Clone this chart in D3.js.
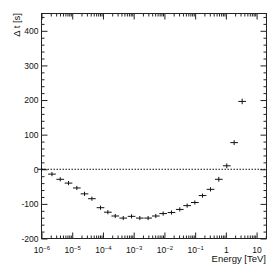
<!DOCTYPE html>
<html>
<head>
<meta charset="utf-8">
<script src="https://cdn.jsdelivr.net/npm/d3@7"></script>
<style>
  body { margin: 0; background: #fff; }
  text { font-family: "Liberation Sans", Arial, sans-serif; fill: #111; }
</style>
</head>
<body>
<div id="chart"></div>
<script>
// data: bin centres as log10(E / TeV), time lag in s
const logEnergy = [-6.0, -5.66, -5.39, -5.12, -4.85, -4.60, -4.36, -4.08, -3.84, -3.60,
                   -3.34, -3.07, -2.80, -2.53, -2.28, -2.04, -1.77, -1.50, -1.26, -1.01,
                   -0.76, -0.50, -0.23, 0.03, 0.27, 0.53];
const deltaT = [0, -14, -29, -40, -54, -71, -85, -111, -124, -135,
                -141, -136, -141, -141, -135, -128, -125, -116, -105, -96,
                -76, -58, -29, 10, 77, 196];
const deltaTErr = [6, 6, 6, 6, 6, 6, 6, 6, 6, 6,
                   6, 6, 6, 6, 6, 6, 6, 6, 6, 6,
                   6, 6, 7, 7, 7, 8];
const binHalfWidth = 0.125; // decades
const yTicks = [-200, -100, 0, 100, 200, 300, 400];
const xTickExp = [-6, -5, -4, -3, -2, -1, 0, 1];

//svg container
const svgWidth = 274
const svgHeight = 268
const margin = { top: 13, right: 8, bottom: 30, left: 41 };
const width = svgWidth - margin.left - margin.right;
const height = svgHeight - margin.top - margin.bottom;

const svg = d3.select("#chart")
  .append("svg")
  .attr("width", svgWidth)
  .attr("height", svgHeight);
const g = svg.append("g")
  .attr("transform", `translate(${margin.left + 0.5}, ${margin.top + 0.5})`);

const xScale = d3.scaleLog().domain([1e-6, 21]).range([0, width]);
const yScale = d3.scaleLinear().domain([-200, 450]).range([height, 0]);

// minor ticks
const xMinor = [];
xTickExp.forEach(e => {
  for (let k = 2; k <= 9; k++) {
    const v = k * Math.pow(10, e);
    if (v <= 21) xMinor.push(v);
  }
});
const yMinor = d3.range(-200, 451, 20).filter(v => v % 100 !== 0);
const xMajor = xTickExp.map(e => Math.pow(10, e));

const majorLen = 6, minorLen = 3;

function styleAxis(sel) {
  sel.select(".domain").remove();
  sel.selectAll("line").attr("stroke", "#222");
}

// bottom
g.append("g").attr("transform", `translate(0,${height})`)
  .call(d3.axisBottom(xScale).tickValues(xMinor).tickSize(-minorLen).tickFormat(""))
  .call(styleAxis);
const xAx = g.append("g").attr("transform", `translate(0,${height})`)
  .call(d3.axisBottom(xScale).tickValues(xMajor).tickSize(-majorLen).tickPadding(5).tickFormat(""))
  .call(styleAxis);
// top
g.append("g")
  .call(d3.axisTop(xScale).tickValues(xMinor).tickSize(-minorLen).tickFormat(""))
  .call(styleAxis);
g.append("g")
  .call(d3.axisTop(xScale).tickValues(xMajor).tickSize(-majorLen).tickFormat(""))
  .call(styleAxis);
// left
g.append("g")
  .call(d3.axisLeft(yScale).tickValues(yMinor).tickSize(-minorLen).tickFormat(""))
  .call(styleAxis);
const yAx = g.append("g")
  .call(d3.axisLeft(yScale).tickValues(yTicks).tickSize(-majorLen).tickPadding(3).tickFormat(d => d < 0 ? "-" + Math.abs(d) : d))
  .call(styleAxis);
yAx.selectAll("text").attr("font-size", "8.5px").attr("font-family", null);
// right
g.append("g").attr("transform", `translate(${width},0)`)
  .call(d3.axisRight(yScale).tickValues(yMinor).tickSize(-minorLen).tickFormat(""))
  .call(styleAxis);
g.append("g").attr("transform", `translate(${width},0)`)
  .call(d3.axisRight(yScale).tickValues(yTicks).tickSize(-majorLen).tickFormat(""))
  .call(styleAxis);

// x labels with superscripts
xAx.selectAll(".tick").each(function(d) {
  const e = Math.round(Math.log10(d));
  const t = d3.select(this).select("text")
    .attr("font-size", "8.5px").attr("font-family", null)
    .attr("y", 8).attr("dy", "0.71em");
  if (e === 0) t.text("1");
  else if (e === 1) t.text("10");
  else {
    t.text("10");
    t.append("tspan").attr("font-size", "6px").attr("dy", "-0.5em").text("\u2212" + Math.abs(e));
  }
});

// frame
g.append("rect")
  .attr("width", width).attr("height", height)
  .attr("fill", "none").attr("stroke", "#222");

// zero line
g.append("line")
  .attr("x1", 0).attr("x2", width)
  .attr("y1", yScale(0)).attr("y2", yScale(0))
  .attr("stroke", "#111").attr("stroke-dasharray", "1.5,1.5");

// points with error bars
const pts = logEnergy.map((l, i) => ({ l: l, v: deltaT[i], err: deltaTErr[i] }));
const marks = g.append("g").attr("stroke", "#111").attr("stroke-width", 1);
marks.selectAll(".hbar").data(pts).enter().append("line")
  .attr("x1", d => xScale(Math.pow(10, d.l - binHalfWidth)))
  .attr("x2", d => xScale(Math.pow(10, d.l + binHalfWidth)))
  .attr("y1", d => yScale(d.v)).attr("y2", d => yScale(d.v));
marks.selectAll(".vbar").data(pts).enter().append("line")
  .attr("x1", d => xScale(Math.pow(10, d.l))).attr("x2", d => xScale(Math.pow(10, d.l)))
  .attr("y1", d => yScale(d.v - d.err)).attr("y2", d => yScale(d.v + d.err));

// axis titles
svg.append("text")
  .attr("transform", `translate(20, ${margin.top}) rotate(-90)`)
  .attr("text-anchor", "end")
  .attr("font-size", "9.5px")
  .text("\u0394 t [s]");
svg.append("text")
  .attr("x", margin.left + width)
  .attr("y", 262)
  .attr("text-anchor", "end")
  .attr("font-size", "9.5px")
  .text("Energy [TeV]");
</script>
</body>
</html>
